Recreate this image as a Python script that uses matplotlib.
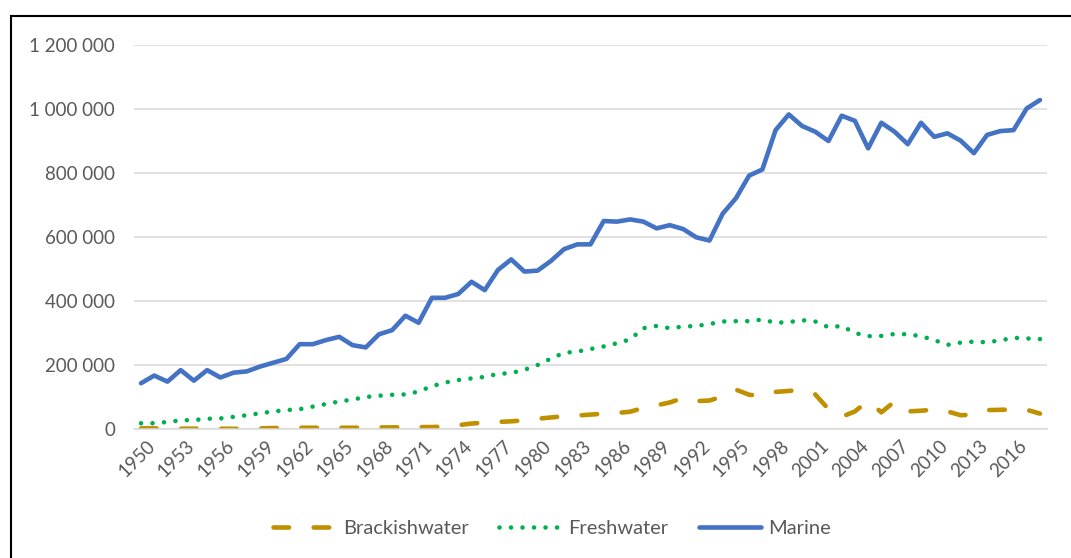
import matplotlib
matplotlib.use("Agg")
import matplotlib.pyplot as plt
from matplotlib.patches import Rectangle
from matplotlib.ticker import FuncFormatter
from matplotlib.transforms import ScaledTranslation

years = list(range(1950, 2019))

marine = [143, 167, 148, 184, 151, 184, 161, 176, 180, 195,
          207, 219, 265, 265, 278, 288, 262, 255, 296, 309,
          354, 332, 410, 410, 422, 460, 434, 497, 530, 492,
          495, 525, 562, 577, 577, 650, 648, 655, 648, 627,
          637, 625, 599, 589, 673, 721, 792, 811, 934, 983,
          947, 929, 900, 979, 963, 877, 957, 929, 890, 957,
          913, 924, 901, 862, 919, 931, 934, 1002, 1028]

freshwater = [18, 18, 22, 27, 28, 32, 33, 38, 43, 49,
              55, 59, 62, 70, 78, 86, 92, 100, 104, 107,
              108, 117, 134, 145, 153, 158, 163, 172, 175, 185,
              200, 220, 238, 242, 250, 258, 268, 280, 315, 322,
              315, 320, 322, 328, 336, 337, 337, 342, 332, 334,
              340, 336, 318, 322, 300, 290, 291, 297, 296, 290,
              278, 263, 270, 273, 271, 277, 285, 283, 281]

brackish = [2, 2, 2, 1, 1, 1, 1, 0.5, 1, 2,
            3, 4, 4, 4, 4, 4, 4, 4, 5, 5,
            6, 6, 6, 8, 12, 17, 20, 22, 24, 27,
            32, 36, 40, 42, 45, 48, 50, 54, 66, 74,
            83, 97, 87, 89, 102, 123, 107, 103, 116, 119,
            122, 108, 62, 38, 55, 88, 52, 86, 55, 57,
            61, 55, 43, 45, 59, 60, 61, 60, 48]

series_names = ["Brackishwater", "Freshwater", "Marine"]
tick_years = years[::3]  # 1950 ... 2016

FONT = "Lato"
TXT = "#595959"

fig = plt.figure(figsize=(10.71, 5.58), dpi=100)
ax = fig.add_axes([134.4 / 1071, 1 - 429 / 558, (1046.6 - 134.4) / 1071, (429 - 45) / 558])

x = list(range(len(years)))
k = 1000
lw = 3.3
ax.plot(x, [v * k for v in brackish], color="#BF9000", lw=lw,
        linestyle=(0, (3.4, 5.35)), dash_capstyle="round", label=series_names[0])
ax.plot(x, [v * k for v in freshwater], color="#00B050", lw=lw,
        linestyle=(0, (0.01, 2.5)), dash_capstyle="round", label=series_names[1])
ax.plot(x, [v * k for v in marine], color="#4472C4", lw=lw,
        solid_capstyle="round", solid_joinstyle="round", label=series_names[2])

ax.set_xlim(-0.5, len(years) - 0.5)
ax.set_ylim(0, 1200000)
ax.set_yticks(range(0, 1200001, 200000))
ax.yaxis.set_major_formatter(FuncFormatter(lambda v, p: f"{int(v):,}".replace(",", " ")))
ax.set_xticks([years.index(y) for y in tick_years])
ax.set_xticklabels([str(y) for y in tick_years], rotation=45, ha="right",
                   rotation_mode="anchor")

ax.grid(axis="y", color="#D9D9D9", lw=1.1)
ax.set_axisbelow(True)
for s in ["top", "right", "left"]:
    ax.spines[s].set_visible(False)
ax.spines["bottom"].set_color("#D9D9D9")
ax.spines["bottom"].set_linewidth(1.1)
ax.tick_params(axis="both", length=0, colors=TXT)
ax.tick_params(axis="y", pad=14, labelsize=13.5)
ax.tick_params(axis="x", pad=6, labelsize=13.5)
shift = ScaledTranslation(5 / 100, 0, fig.dpi_scale_trans)
for lab in ax.get_xticklabels():
    lab.set_transform(lab.get_transform() + shift)
for lab in ax.get_xticklabels() + ax.get_yticklabels():
    lab.set_fontfamily(FONT)
    lab.set_color(TXT)

leg = fig.legend(loc="center", bbox_to_anchor=(552 / 1071, 1 - 528 / 558), ncol=3,
                 frameon=False, handlelength=3.1, handletextpad=0.35, columnspacing=1.5,
                 prop={"family": FONT, "size": 14.5})
for t in leg.get_texts():
    t.set_color(TXT)

fig.patches.append(Rectangle((11 / 1071, -0.1), 1.2, 1 - 15.5 / 558 + 0.1,
                             transform=fig.transFigure, fill=False,
                             edgecolor="black", lw=1.5))

fig.savefig("out.png", dpi=100)
